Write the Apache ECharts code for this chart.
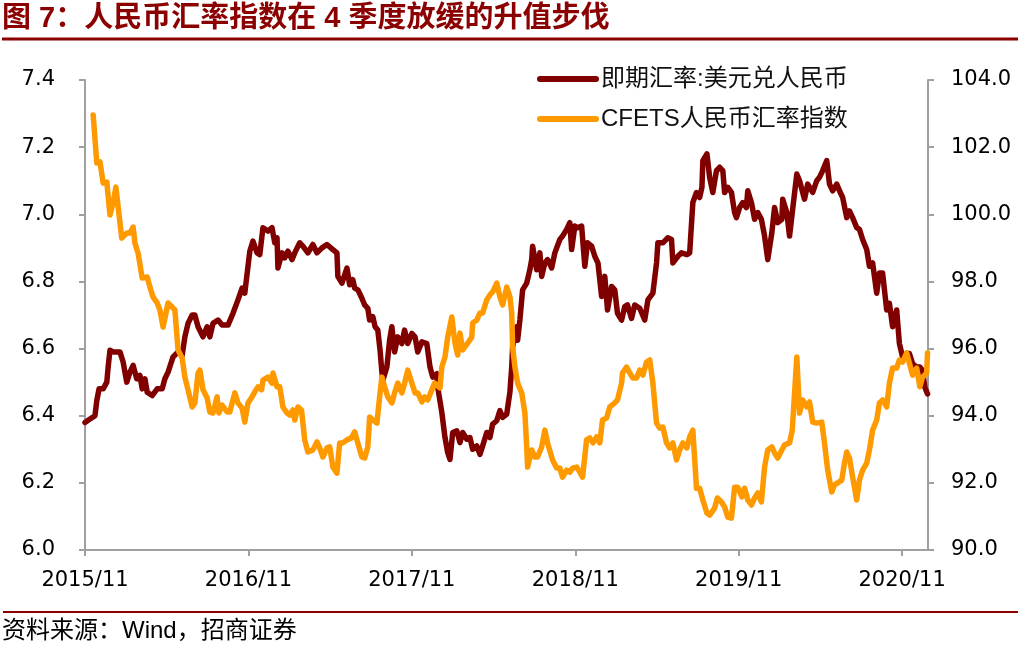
<!DOCTYPE html>
<html>
<head>
<meta charset="utf-8">
<title>人民币汇率指数</title>
<script src="https://cdn.jsdelivr.net/npm/echarts@6/dist/echarts.min.js"></script>
<style>
html, body { margin: 0; padding: 0; background: #fff; }
#main { width: 1018px; height: 645px; }
</style>
</head>
<body>
<div id="main"></div>
<script>
var titleText = "图 7：人民币汇率指数在 4 季度放缓的升值步伐";
var sourceText = "资料来源：Wind，招商证券";
var seriesNames = ["即期汇率:美元兑人民币", "CFETS人民币汇率指数"];
var xTickLabels = ["2015/11", "2016/11", "2017/11", "2018/11", "2019/11", "2020/11"];
var xAxisEnd = "2020-12-28";

// 即期汇率 (左轴)
var usdDates = [
  "2015-11-01","2015-11-12","2015-11-23","2015-11-27","2015-12-02","2015-12-11","2015-12-19","2015-12-22","2015-12-26",
  "2016-01-03","2016-01-18","2016-01-25","2016-02-03","2016-02-10","2016-02-17","2016-02-25","2016-03-02","2016-03-07","2016-03-13","2016-03-18","2016-03-29","2016-04-10","2016-04-21","2016-04-27","2016-05-04","2016-05-15","2016-05-26","2016-06-05","2016-06-11","2016-06-18","2016-06-27","2016-07-03","2016-07-10","2016-07-21","2016-07-30","2016-08-06","2016-08-13","2016-08-24","2016-09-03","2016-09-16","2016-09-27","2016-10-08","2016-10-17","2016-10-23","2016-11-04","2016-11-11","2016-11-20","2016-11-26","2016-12-03","2016-12-14","2016-12-23","2016-12-29",
  "2017-01-04","2017-01-06","2017-01-15","2017-01-21","2017-01-28","2017-02-07","2017-02-13","2017-02-24","2017-03-01","2017-03-12","2017-03-23","2017-04-02","2017-04-13","2017-04-24","2017-05-07","2017-05-16","2017-05-18","2017-05-27","2017-06-08","2017-06-14","2017-06-21","2017-06-25","2017-07-02","2017-07-11","2017-07-17","2017-07-24","2017-07-28","2017-08-05","2017-08-10","2017-08-16","2017-08-21","2017-08-25","2017-08-27","2017-09-06","2017-09-12","2017-09-17","2017-09-23","2017-09-30","2017-10-09","2017-10-15","2017-10-22","2017-11-01","2017-11-08","2017-11-14","2017-11-23","2017-12-04","2017-12-11","2017-12-17","2017-12-26","2017-12-28",
  "2018-01-07","2018-01-14","2018-01-20","2018-01-25","2018-02-01","2018-02-10","2018-02-17","2018-02-23","2018-03-02","2018-03-09","2018-03-15","2018-03-24","2018-03-31","2018-04-07","2018-04-16","2018-04-23","2018-04-29","2018-05-08","2018-05-15","2018-05-21","2018-05-30","2018-06-07","2018-06-11","2018-06-13","2018-06-22","2018-06-24","2018-06-29","2018-07-05","2018-07-14","2018-07-21","2018-07-25","2018-07-27","2018-08-06","2018-08-13","2018-08-17","2018-08-24","2018-08-30","2018-09-09","2018-09-16","2018-09-27","2018-10-03","2018-10-12","2018-10-19","2018-10-23","2018-10-30","2018-11-06","2018-11-15","2018-11-22","2018-11-28","2018-12-07","2018-12-14","2018-12-21","2018-12-29",
  "2019-01-06","2019-01-12","2019-01-21","2019-01-28","2019-02-04","2019-02-13","2019-02-20","2019-02-26","2019-03-05","2019-03-12","2019-03-23","2019-04-04","2019-04-11","2019-04-22","2019-04-30","2019-05-03","2019-05-14","2019-05-25","2019-06-03","2019-06-06","2019-06-17","2019-06-25","2019-07-07","2019-07-13","2019-07-20","2019-07-28","2019-08-05","2019-08-10","2019-08-12","2019-08-21","2019-08-27","2019-09-04","2019-09-12","2019-09-19","2019-09-26","2019-09-30","2019-10-07","2019-10-15","2019-10-22","2019-10-26","2019-11-03","2019-11-10","2019-11-18","2019-11-21","2019-11-29","2019-12-06","2019-12-13","2019-12-21","2019-12-28",
  "2020-01-05","2020-01-14","2020-01-20","2020-01-27","2020-02-06","2020-02-08","2020-02-17","2020-02-23","2020-02-29","2020-03-09","2020-03-15","2020-03-26","2020-04-03","2020-04-14","2020-04-23","2020-04-29","2020-05-06","2020-05-15","2020-05-21","2020-05-28","2020-06-07","2020-06-13","2020-06-20","2020-06-29","2020-07-05","2020-07-12","2020-07-21","2020-07-27","2020-08-04","2020-08-13","2020-08-19","2020-08-26","2020-09-05","2020-09-11","2020-09-18","2020-09-27","2020-10-03","2020-10-10","2020-10-19","2020-10-25","2020-11-02","2020-11-11","2020-11-17","2020-11-24","2020-12-03","2020-12-10","2020-12-16","2020-12-21","2020-12-27"
];
var usdValues = [
  6.38,6.39,6.40,6.445,6.48,6.48,6.50,6.545,6.595,
  6.59,6.59,6.56,6.50,6.53,6.55,6.51,6.52,6.48,6.51,6.47,6.46,6.48,6.48,6.51,6.53,6.575,6.59,6.58,6.635,6.675,6.70,6.70,6.665,6.635,6.665,6.635,6.675,6.685,6.67,6.67,6.705,6.745,6.78,6.765,6.89,6.92,6.885,6.88,6.96,6.95,6.96,6.915,
  6.93,6.84,6.885,6.87,6.89,6.865,6.885,6.915,6.905,6.885,6.91,6.885,6.90,6.91,6.895,6.885,6.815,6.795,6.84,6.79,6.805,6.78,6.775,6.75,6.73,6.72,6.685,6.695,6.665,6.655,6.595,6.53,6.505,6.545,6.625,6.665,6.59,6.635,6.615,6.655,6.615,6.645,6.635,6.59,6.62,6.615,6.545,6.515,6.525,6.485,
  6.41,6.335,6.29,6.27,6.35,6.355,6.32,6.35,6.33,6.335,6.30,6.31,6.285,6.31,6.35,6.335,6.375,6.385,6.415,6.395,6.405,6.47,6.545,6.605,6.665,6.625,6.685,6.775,6.795,6.835,6.865,6.905,6.835,6.885,6.815,6.855,6.865,6.84,6.885,6.925,6.935,6.955,6.975,6.895,6.965,6.96,6.965,6.845,6.915,6.905,6.875,6.855,6.755,
  6.815,6.715,6.785,6.775,6.705,6.685,6.725,6.73,6.69,6.73,6.72,6.685,6.745,6.765,6.855,6.915,6.915,6.93,6.925,6.855,6.875,6.885,6.88,6.885,7.035,7.065,7.05,7.08,7.16,7.18,7.11,7.065,7.13,7.14,7.13,7.065,7.08,7.065,7.005,6.99,7.02,7.035,7.02,7.07,7.035,6.985,7.005,6.985,6.935,
  6.865,6.945,7.02,6.975,6.985,7.045,7.005,6.935,7.005,7.12,7.10,7.045,7.09,7.065,7.10,7.11,7.13,7.16,7.09,7.07,7.09,7.07,7.05,6.99,7.01,6.99,6.96,6.955,6.925,6.895,6.845,6.855,6.765,6.825,6.825,6.715,6.735,6.665,6.715,6.615,6.575,6.585,6.585,6.555,6.545,6.545,6.535,6.485,6.465
];

// CFETS人民币汇率指数 (右轴)
var cfetsDates = [
  "2015-11-19","2015-11-27","2015-12-04","2015-12-11","2015-12-19","2015-12-26",
  "2016-01-03","2016-01-09","2016-01-14","2016-01-22","2016-02-03","2016-02-10","2016-02-17","2016-02-21","2016-02-28","2016-03-07","2016-03-18","2016-03-24","2016-03-31","2016-04-10","2016-04-16","2016-04-23","2016-05-04","2016-05-08","2016-05-19","2016-05-23","2016-05-26","2016-06-05","2016-06-11","2016-06-18","2016-06-27","2016-07-03","2016-07-10","2016-07-14","2016-07-21","2016-07-30","2016-08-06","2016-08-13","2016-08-22","2016-08-26","2016-09-03","2016-09-14","2016-09-20","2016-10-01","2016-10-08","2016-10-17","2016-10-23","2016-10-30","2016-11-09","2016-11-15","2016-11-22","2016-11-30","2016-12-03","2016-12-14","2016-12-23","2016-12-25",
  "2017-01-04","2017-01-10","2017-01-17","2017-01-26","2017-02-02","2017-02-09","2017-02-13","2017-02-20","2017-02-28","2017-03-05","2017-03-12","2017-03-23","2017-04-02","2017-04-08","2017-04-15","2017-04-24","2017-04-30","2017-05-07","2017-05-16","2017-05-22","2017-05-29","2017-06-08","2017-06-18","2017-06-25","2017-07-02","2017-07-11","2017-07-17","2017-07-24","2017-07-28","2017-08-05","2017-08-14","2017-08-21","2017-08-25","2017-09-01","2017-09-08","2017-09-17","2017-09-23","2017-09-30","2017-10-09","2017-10-15","2017-10-22","2017-11-01","2017-11-08","2017-11-14","2017-11-23","2017-11-29","2017-12-06","2017-12-15","2017-12-21",
  "2018-01-03","2018-01-07","2018-01-14","2018-01-20","2018-01-29","2018-02-06","2018-02-12","2018-02-17","2018-02-23","2018-03-04","2018-03-13","2018-03-15","2018-03-24","2018-03-31","2018-04-07","2018-04-16","2018-04-23","2018-04-29","2018-05-08","2018-05-15","2018-05-21","2018-05-30","2018-06-07","2018-06-11","2018-06-13","2018-06-18","2018-06-24","2018-07-03","2018-07-10","2018-07-14","2018-07-16","2018-07-25","2018-08-02","2018-08-08","2018-08-17","2018-08-24","2018-08-30","2018-09-11","2018-09-20","2018-09-27","2018-10-03","2018-10-12","2018-10-19","2018-10-25","2018-11-04","2018-11-11","2018-11-17","2018-11-26","2018-12-03","2018-12-10","2018-12-18","2018-12-25",
  "2019-01-01","2019-01-10","2019-01-17","2019-01-28","2019-02-04","2019-02-13","2019-02-15","2019-02-24","2019-03-01","2019-03-08","2019-03-16","2019-03-23","2019-03-30","2019-04-08","2019-04-15","2019-04-22","2019-04-30","2019-05-07","2019-05-14","2019-05-22","2019-05-29","2019-06-06","2019-06-14","2019-06-21","2019-06-28","2019-07-07","2019-07-13","2019-07-20","2019-07-28","2019-08-05","2019-08-12","2019-08-21","2019-08-27","2019-09-08","2019-09-14","2019-09-23","2019-09-30","2019-10-07","2019-10-15","2019-10-22","2019-10-29","2019-11-08","2019-11-14","2019-11-21","2019-11-29","2019-12-06","2019-12-13","2019-12-21","2019-12-28",
  "2020-01-05","2020-01-14","2020-01-20","2020-01-27","2020-02-06","2020-02-12","2020-02-23","2020-02-29","2020-03-09","2020-03-15","2020-03-22","2020-03-31","2020-04-07","2020-04-14","2020-04-23","2020-05-04","2020-05-10","2020-05-17","2020-05-26","2020-06-02","2020-06-09","2020-06-18","2020-06-24","2020-06-29","2020-07-05","2020-07-12","2020-07-21","2020-07-27","2020-08-04","2020-08-13","2020-08-19","2020-08-26","2020-09-05","2020-09-11","2020-09-18","2020-09-27","2020-10-03","2020-10-10","2020-10-19","2020-10-25","2020-11-02","2020-11-11","2020-11-17","2020-11-24","2020-12-03","2020-12-10","2020-12-16","2020-12-25","2020-12-27"
];
var cfetsValues = [
  102.96,101.53,101.56,100.93,100.96,99.98,
  100.34,100.81,100.22,99.29,99.44,99.44,99.62,99.14,98.84,98.10,98.13,97.83,97.53,97.36,97.15,96.64,97.36,97.39,97.15,96.46,95.96,95.72,95.15,94.77,94.26,94.38,95.27,95.36,94.77,94.53,94.11,94.08,94.56,94.08,94.32,94.11,94.11,94.68,94.38,94.23,93.81,94.38,94.56,94.71,94.86,94.77,95.06,95.15,94.97,95.27,
  94.86,94.86,94.26,94.08,94.02,94.17,93.87,94.26,94.17,93.28,92.92,92.98,93.22,93.04,92.77,93.04,93.07,92.47,92.29,93.19,93.19,93.28,93.34,93.52,93.19,92.77,92.74,93.07,93.96,93.87,93.78,94.68,95.15,94.86,94.56,94.38,94.68,94.97,94.68,94.97,95.36,94.97,94.68,94.68,94.41,94.56,94.47,94.77,94.97,
  94.83,95.45,95.75,96.34,96.94,96.16,95.81,96.46,95.96,96.16,96.34,96.76,96.85,97.06,97.06,97.45,97.60,97.69,97.95,97.54,97.30,97.83,97.54,97.06,96.05,95.45,94.97,94.68,94.08,93.07,92.47,92.98,92.77,92.77,93.07,93.57,93.19,92.68,92.44,92.44,92.17,92.38,92.32,92.44,92.47,92.32,92.17,93.28,93.34,93.19,93.37,93.19,
  93.87,93.93,94.26,94.38,94.47,94.97,95.27,95.45,95.27,95.12,95.12,95.36,95.21,95.60,95.66,94.97,93.78,93.63,93.66,93.19,93.04,93.19,92.68,92.98,93.19,93.04,93.37,93.57,91.84,91.84,91.49,91.10,91.04,91.25,91.55,91.43,91.28,90.98,90.95,91.87,91.87,91.58,91.84,91.49,91.34,91.55,91.70,91.43,92.47,
  92.98,93.07,92.89,92.74,92.98,93.13,93.19,93.57,95.75,94.08,94.47,94.26,94.41,93.81,93.78,93.81,93.19,92.38,91.73,91.94,92.00,92.08,92.59,92.92,92.74,92.17,91.49,92.08,92.38,92.59,92.98,93.57,93.87,94.38,94.47,94.26,94.97,95.42,95.42,95.66,95.60,95.87,95.57,95.21,95.42,94.86,95.15,95.27,95.87
];

// months since 2015/11
function toMonths(s) {
  var p = s.split(/[-\/]/);
  var day = p.length > 2 ? +p[2] : 1;
  return (+p[0] - 2015) * 12 + (+p[1] - 11) + (day - 1) / 30;
}

function pairUp(dates, values) {
  var out = [];
  for (var i = 0; i < dates.length; i++) {
    out.push([toMonths(dates[i]), values[i]]);
  }
  return out;
}

var xTickValues = xTickLabels.map(function (l) { return toMonths(l); });

var numFont = "DejaVu Sans";
var cjkFont = "'Liberation Sans', 'Noto Sans CJK SC', sans-serif";
var axisGray = "#a0a0a0";
var darkRed = "#800000";
var orange = "#ff9900";

var chart = echarts.init(document.getElementById("main"));

var option = {
  animation: false,
  backgroundColor: "#fff",
  textStyle: { fontFamily: cjkFont },
  title: [
    {
      text: titleText,
      left: 2,
      top: 4,
      padding: 0,
      textStyle: { color: "#8b0000", fontSize: 29, fontWeight: "bold", fontFamily: cjkFont }
    },
    {
      text: sourceText,
      left: 2,
      top: 619,
      padding: 0,
      textStyle: { color: "#000", fontSize: 24, fontWeight: "normal", fontFamily: cjkFont }
    }
  ],
  graphic: [
    { type: "line", shape: { x1: 2, y1: 39, x2: 1018, y2: 39 }, style: { stroke: "#8b0000", lineWidth: 3 } },
    { type: "line", shape: { x1: 3, y1: 612, x2: 1018, y2: 612 }, style: { stroke: "#8b0000", lineWidth: 2 } }
  ],
  legend: {
    orient: "vertical",
    left: 532,
    top: 62,
    itemWidth: 56,
    itemHeight: 24,
    itemGap: 16,
    itemStyle: { opacity: 0 },
    lineStyle: { width: 6, cap: "round" },
    textStyle: { fontSize: 24, color: "#111", fontFamily: cjkFont },
    data: seriesNames
  },
  grid: { left: 85, right: 90, top: 80, bottom: 95, outerBoundsMode: "none" },
  xAxis: {
    type: "value",
    min: 0,
    max: toMonths(xAxisEnd),
    splitLine: { show: false },
    axisLine: { show: true, lineStyle: { color: axisGray, width: 2 } },
    axisTick: { show: true, length: 6, customValues: xTickValues, lineStyle: { color: axisGray, width: 2 } },
    axisLabel: {
      customValues: xTickValues,
      margin: 20,
      color: "#000",
      fontSize: 21,
      fontFamily: numFont,
      formatter: function (v) {
        var i = Math.round(v / 12);
        return xTickLabels[i] || "";
      }
    }
  },
  yAxis: [
    {
      type: "value",
      position: "left",
      min: 6.0,
      max: 7.4,
      interval: 0.2,
      splitLine: { show: false },
      axisLine: { show: true, lineStyle: { color: axisGray, width: 2 } },
      axisTick: { show: true, length: 6, lineStyle: { color: axisGray, width: 2 } },
      axisLabel: {
        margin: 30,
        color: "#000",
        fontSize: 21,
        fontFamily: numFont,
        formatter: function (v) { return v.toFixed(1); }
      }
    },
    {
      type: "value",
      position: "right",
      min: 90,
      max: 104,
      interval: 2,
      splitLine: { show: false },
      axisLine: { show: true, lineStyle: { color: axisGray, width: 2 } },
      axisTick: { show: true, length: 6, lineStyle: { color: axisGray, width: 2 } },
      axisLabel: {
        margin: 23,
        color: "#000",
        fontSize: 21,
        fontFamily: numFont,
        formatter: function (v) { return v.toFixed(1); }
      }
    }
  ],
  series: [
    {
      name: seriesNames[0],
      type: "line",
      yAxisIndex: 0,
      symbol: "none",
      data: pairUp(usdDates, usdValues),
      lineStyle: { color: darkRed, width: 5.5, cap: "round", join: "round" },
      itemStyle: { color: darkRed }
    },
    {
      name: seriesNames[1],
      type: "line",
      yAxisIndex: 1,
      symbol: "none",
      data: pairUp(cfetsDates, cfetsValues),
      lineStyle: { color: orange, width: 5.5, cap: "round", join: "round" },
      itemStyle: { color: orange }
    }
  ]
};

chart.setOption(option);
</script>
</body>
</html>
